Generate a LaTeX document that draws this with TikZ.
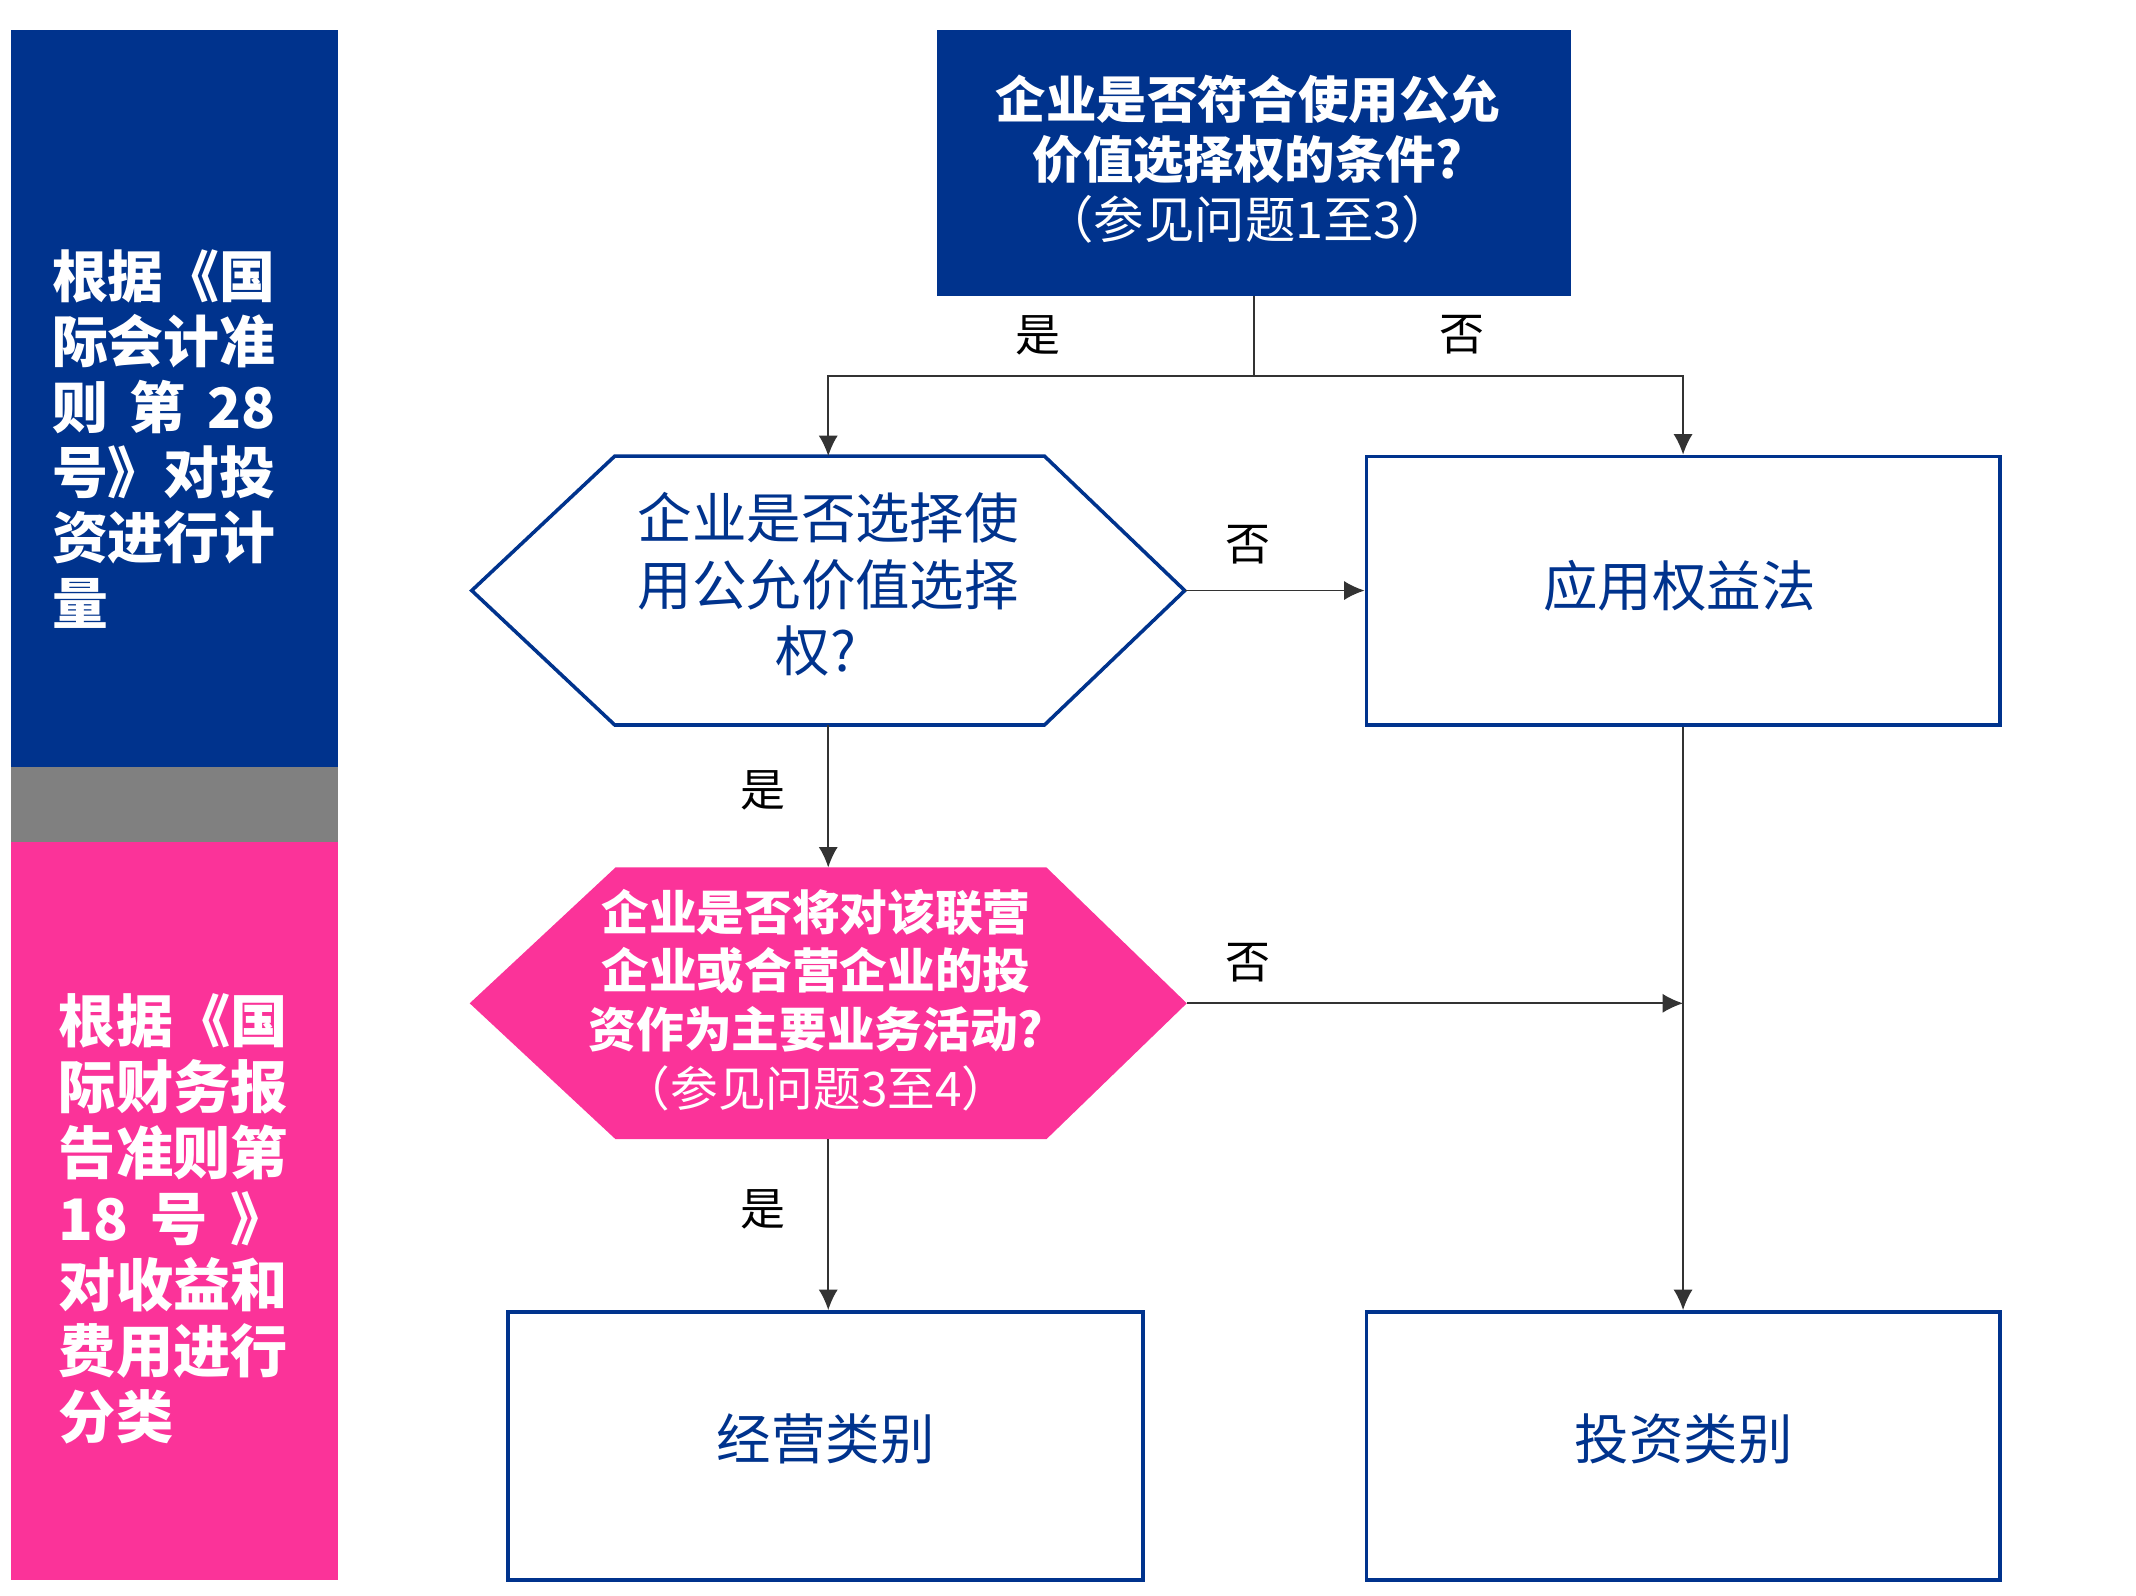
\documentclass[tikz,border=0pt]{standalone}
\usepackage{fontspec}
\setmainfont{Noto Sans CJK SC}
\usetikzlibrary{arrows.meta,backgrounds}
\definecolor{kblue}{HTML}{00338D}
\definecolor{kpink}{HTML}{FB3399}
\definecolor{kgray}{HTML}{808080}
\begin{document}
\begin{tikzpicture}[x=1pt,y=-1pt,
  conn/.style={draw=black!80, line width=1.2pt},
  arr/.style={conn, -{Latex[length=15pt,width=14pt]}},
  lbl/.style={font=\fontsize{33}{33}\selectfont, text=black, inner sep=0pt},
  boxw/.style={draw=kblue, line width=2.6pt, fill=white, minimum width=465pt, minimum height=197pt, inner sep=0pt},
  boxtext/.style={text=kblue, font=\fontsize{40}{48}\selectfont, inner sep=0pt},
  hexnode/.style={minimum width=523pt, minimum height=197pt, inner sep=0pt, align=center},
  paneltext/.style={text=white, align=left, inner sep=0pt, anchor=north west}
]
\useasboundingbox (0,0) rectangle (1568,1171);

% left panels
\fill[kblue] (8,22) rectangle (248,563);
\fill[kgray] (8,563) rectangle (248,618);
\fill[kpink] (8,618) rectangle (248,1160);

\node[paneltext, font=\fontsize{41}{48}\selectfont\bfseries] (bluetext) at (38,183)
  {根据《国\\际会计准\\\makebox[164pt][l]{则\hfill 第\hfill 28}\\号》对投\\资进行计\\量};
\node[paneltext, font=\fontsize{42}{48.5}\selectfont\bfseries] (pinktext) at (43,729)
  {根据《国\\际财务报\\告准则第\\\makebox[168pt][l]{18\hfill 号\hfill 》}\\对收益和\\费用进行\\分类};

% top box
\node[fill=kblue, minimum width=465pt, minimum height=195pt, inner sep=0pt] (top) at (920.5,119.5) {};
\node[text=white, align=center, inner sep=0pt, font=\fontsize{37}{44}\selectfont] (toptext) at (916,117)
  {\textbf{企业是否符合使用公允}\\\textbf{价值选择权的条件?}\\（参见问题1至3）};

% hexagon 1
\node[hexnode] (hexone) at (608,433.5) {};
\node[text=kblue, align=center, inner sep=0pt, font=\fontsize{40}{49}\selectfont] (hexonetext) at (608,429)
  {企业是否选择使\\用公允价值选择\\权?\hspace*{18pt}};
% hexagon 2
\node[hexnode, minimum width=526pt, minimum height=199pt] (hextwo) at (608,736.5) {};
\node[text=white, align=center, inner sep=0pt, font=\fontsize{35}{43}\selectfont] (hextwotext) at (599,734)
  {\textbf{企业是否将对该联营}\\\textbf{企业或合营企业的投}\\\textbf{资作为主要业务活动?}\\（参见问题3至4）};

\begin{scope}[on background layer]
\draw[draw=kblue, line width=2.6pt, fill=white]
  (hexone.west) -- ([xshift=105pt]hexone.north west) -- ([xshift=-103pt]hexone.north east)
  -- (hexone.east) -- ([xshift=-103pt]hexone.south east) -- ([xshift=105pt]hexone.south west) -- cycle;
\fill[kpink]
  (hextwo.west) -- ([xshift=107pt]hextwo.north west) -- ([xshift=-103pt]hextwo.north east)
  -- (hextwo.east) -- ([xshift=-103pt]hextwo.south east) -- ([xshift=107pt]hextwo.south west) -- cycle;
\end{scope}

% boxes
\node[boxw] (eq) at (1235.5,433.5) {};
\node[boxw, minimum width=466pt] (op) at (606,1061.5) {};
\node[boxw] (inv) at (1235.5,1061.5) {};
\node[boxtext] (eqtext) at (1233,430) {应用权益法};
\node[boxtext] (optext) at (606,1056) {经营类别};
\node[boxtext] (invtext) at (1236,1056) {投资类别};

% connectors
\coordinate (split) at (920.5,276);
\draw[conn] (top.south) -- (split);
\draw[arr] (split) -| (hexone.north);
\draw[arr] (split) -| (eq.north);
\draw[arr] (hexone.east) -- (eq.west);
\draw[arr] (hexone.south) -- (hextwo.north);
\coordinate (join) at (eq.south |- hextwo.east);
\draw[arr] (hextwo.east) -- (join);
\draw[arr] (eq.south) -- (inv.north);
\draw[arr] (hextwo.south) -- (hextwo.south |- op.north);

% labels
\node[lbl] (l1) at (762,246) {是};
\node[lbl] (l2) at (1073,246) {否};
\node[lbl] (l3) at (916,400) {否};
\node[lbl] (l4) at (560,580) {是};
\node[lbl] (l5) at (916,707) {否};
\node[lbl] (l6) at (560,888) {是};
\end{tikzpicture}
\end{document}
